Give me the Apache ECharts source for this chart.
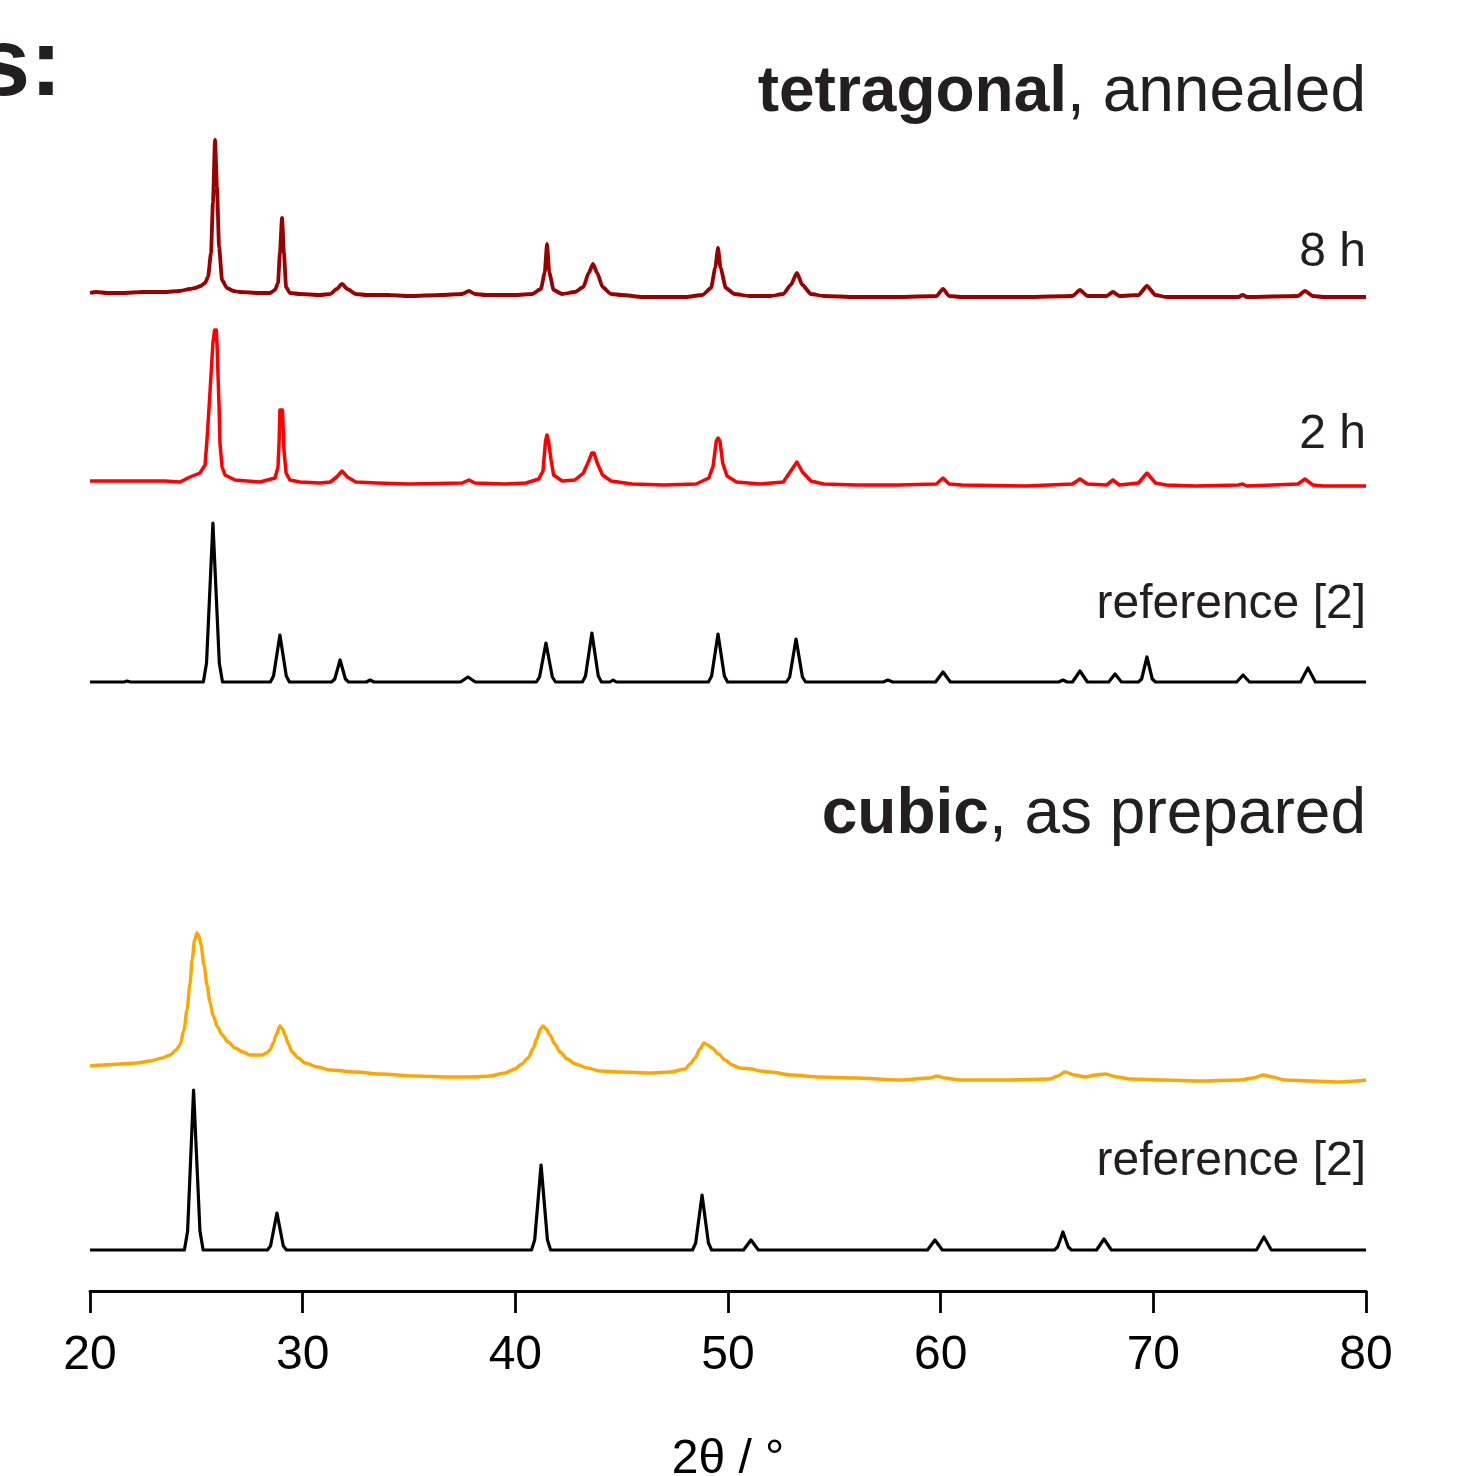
<!DOCTYPE html>
<html><head><meta charset="utf-8">
<script src="https://cdn.jsdelivr.net/npm/echarts@6/dist/echarts.min.js"></script>
<style>html,body{margin:0;padding:0;background:#fff;overflow:hidden;}#c{width:1458px;height:1476px;}</style>
</head><body><div id="c"></div>
<script>
// ---- data: [2θ, intensity] ----
const xTicks = [20, 30, 40, 50, 60, 70, 80];
const seriesNames = ['8 h', '2 h', 'reference [2] (tetragonal)', 'cubic, as prepared', 'reference [2] (cubic)'];
const offsets = [998, 810, 609, 225, 41];

const annealed8h = [[20.00,0],[20.3,1],[20.8,0],[21.5,0],[22.5,1],[23.5,1],[24.2,2],[24.7,4],[24.94,5],[25.20,7],[25.41,10],[25.55,16],[25.69,40],[25.78,90],[25.88,153],[25.97,106],[26.07,46],[26.21,13],[26.44,5],[26.75,2],[27.05,1],[28.0,0],[28.46,0],[28.70,3],[28.84,10],[28.93,40],[29.03,75],[29.12,40],[29.22,6],[29.40,0],[29.87,-1],[30.81,-2],[31.3,-1],[31.6,4],[31.85,9],[32.1,4],[32.5,-1],[33.0,-2],[34.0,-2],[35.0,-3],[36.5,-2],[37.5,-1],[37.82,2],[38.1,-1],[38.6,-2],[40.0,-2],[40.8,-1],[41.2,4],[41.38,20],[41.49,49],[41.6,20],[41.8,3],[42.2,-1],[42.8,1],[43.2,6],[43.45,20],[43.65,29],[43.85,20],[44.1,6],[44.5,-1],[45.0,-2],[46.0,-4],[47.0,-4],[48.0,-4],[48.8,-2],[49.2,5],[49.4,25],[49.53,45],[49.65,25],[49.9,5],[50.3,-1],[51.0,-3],[52.0,-3],[52.6,-1],[52.95,8],[53.24,20],[53.5,8],[53.9,-1],[54.5,-3],[56.0,-4],[58.0,-4],[59.8,-3],[60.11,4],[60.4,-3],[61.0,-4],[64.0,-4],[66.2,-3],[66.55,3],[66.9,-3],[67.8,-3],[68.1,1],[68.4,-3],[69.3,-2],[69.7,7],[70.1,-2],[70.6,-4],[72.0,-4],[74.0,-4],[74.2,-2],[74.4,-4],[76.8,-3],[77.13,2],[77.5,-3],[78.0,-4],[80.0,-4]];

const annealed2h = [[20.0,0],[20.5,0],[21.5,0],[22.5,0],[23.5,0],[24.23,-1],[24.70,4],[25.17,8],[25.41,16],[25.50,41],[25.60,74],[25.78,138],[25.86,151],[25.90,145],[25.94,151],[25.97,138],[26.07,74],[26.11,38],[26.21,14],[26.35,6],[26.82,1],[27.99,-1],[28.70,3],[28.84,14],[28.89,38],[28.93,71],[29.0,69],[29.05,71],[29.12,31],[29.22,8],[29.40,1],[29.87,-1],[30.81,-2],[31.3,-1],[31.6,4],[31.85,10],[32.1,4],[32.5,-1],[33.5,-2],[35.0,-3],[37.5,-2],[37.82,1],[38.1,-2],[39.5,-3],[40.5,-2],[41.1,2],[41.3,10],[41.42,40],[41.49,46],[41.56,40],[41.68,21],[41.8,6],[42.2,0],[42.8,1],[43.2,8],[43.45,20],[43.6,28],[43.7,28],[43.85,18],[44.1,6],[44.5,0],[45.5,-3],[47.0,-4],[48.5,-3],[49.1,3],[49.3,15],[49.45,40],[49.53,43],[49.62,40],[49.75,18],[49.95,5],[50.4,-1],[51.5,-3],[52.6,-1],[52.95,10],[53.24,19],[53.5,9],[53.9,0],[54.5,-3],[56.0,-4],[58.0,-4],[59.8,-3],[60.11,3],[60.4,-3],[61.0,-4],[64.0,-5],[66.2,-3],[66.55,2],[66.9,-3],[67.8,-4],[68.1,1],[68.4,-4],[69.3,-2],[69.7,8],[70.1,-2],[70.6,-4],[72.0,-5],[74.0,-4],[74.2,-3],[74.4,-5],[76.8,-3],[77.13,2],[77.5,-4],[78.0,-5],[80.0,-5]];

const refTetragonal = [[20,0],[21.6,0],[21.74,1],[21.9,0],[25.33,0],[25.48,19],[25.78,159],[26.08,19],[26.23,0],[28.48,0],[28.63,6],[28.93,47],[29.23,6],[29.38,0],[31.36,0],[31.51,3],[31.76,22],[32.01,3],[32.16,0],[33.0,0],[33.17,2],[33.35,0],[37.42,0],[37.77,5],[38.12,0],[40.99,0],[41.14,5],[41.44,39],[41.74,5],[41.89,0],[43.15,0],[43.30,6],[43.60,49],[43.90,6],[44.05,0],[44.45,0],[44.6,2],[44.75,0],[49.08,0],[49.23,6],[49.53,48],[49.83,6],[49.98,0],[52.75,0],[52.90,5],[53.20,43],[53.50,5],[53.65,0],[57.3,0],[57.52,2],[57.74,0],[59.76,0],[60.11,10],[60.46,0],[65.55,0],[65.75,2],[65.95,0],[66.20,0],[66.55,11],[66.90,0],[67.90,0],[68.20,8],[68.50,0],[69.30,0],[69.45,3],[69.70,25],[69.95,3],[70.10,0],[73.92,0],[74.22,7],[74.52,0],[76.92,0],[77.27,14],[77.62,0],[80,0]];

const cubicPrepared = [[20.0,0],[20.6,1],[21.41,2],[22.2,3],[22.82,5],[23.4,8],[23.76,11],[24.05,16],[24.23,21],[24.42,36],[24.56,56],[24.70,82],[24.80,106],[24.92,126],[25.03,133],[25.12,130],[25.22,121],[25.36,101],[25.50,81],[25.64,64],[25.78,51],[26.0,39],[26.21,31],[26.5,24],[26.82,18],[27.2,14],[27.52,11],[28.09,11],[28.3,13],[28.46,16],[28.62,23],[28.75,31],[28.93,40],[29.05,37],[29.17,31],[29.33,22],[29.50,14],[29.8,8],[30.11,3],[30.7,-1],[31.29,-4],[32.5,-6],[33.64,-8],[35.3,-10],[36.93,-11],[38.0,-11],[38.81,-10],[39.5,-7],[39.98,-3],[40.3,2],[40.60,8],[40.85,18],[41.02,28],[41.18,37],[41.30,40],[41.45,37],[41.63,31],[41.85,22],[42.10,14],[42.45,7],[42.81,2],[43.4,-2],[43.98,-5],[45.0,-6],[46.33,-7],[47.3,-6],[47.98,-3],[48.22,2],[48.45,8],[48.68,17],[48.87,23],[49.05,21],[49.25,18],[49.55,12],[49.86,6],[50.2,1],[50.56,-2],[51.13,-3],[51.5,-5],[51.97,-6],[53.0,-9],[54.33,-11],[56.0,-12],[58.09,-14],[59.5,-12],[59.83,-10],[60.2,-12],[60.91,-14],[63.0,-14],[65.14,-13],[65.5,-10],[65.85,-6],[66.3,-9],[66.79,-11],[67.3,-9],[67.73,-8],[68.3,-11],[68.90,-13],[70.5,-14],[72.19,-15],[74.07,-14],[74.7,-12],[75.16,-9],[75.6,-11],[76.19,-14],[77.5,-15],[78.78,-16],[79.5,-15],[80.0,-14]];

const refCubic = [[20,0],[24.44,0],[24.59,19],[24.87,160],[25.17,19],[25.32,0],[28.34,0],[28.49,4],[28.79,37],[29.09,4],[29.24,0],[40.76,0],[40.91,10],[41.21,85],[41.51,10],[41.66,0],[48.33,0],[48.48,7],[48.78,55],[49.08,7],[49.23,0],[50.73,0],[51.08,10],[51.43,0],[59.38,0],[59.73,10],[60.08,0],[65.35,0],[65.50,3],[65.75,18],[66.00,3],[66.15,0],[67.33,0],[67.68,11],[68.03,0],[74.85,0],[75.20,13],[75.55,0],[80,0]];

const allData = [annealed8h, annealed2h, refTetragonal, cubicPrepared, refCubic];
const colors = ['#9b0000', '#ff0000', '#000000', '#ffa500', '#000000'];
const widths = [3.8, 3.5, 3.2, 3.4, 3.2];
const smooths = [0.2, false, false, 0.3, false];

const FONT = '"Liberation Sans", Arial, Helvetica, sans-serif';
const TXT = '#231f20';

const el = document.getElementById('c');
const chart = echarts.init(el, null, {renderer: 'canvas', width: 1458, height: 1476});
const series = allData.map((arr, i) => ({
  type: 'line',
  name: seriesNames[i],
  data: arr.map(p => [p[0], p[1] + offsets[i]]),
  showSymbol: false,
  symbol: 'none',
  smooth: smooths[i],
  smoothMonotone: 'x',
  lineStyle: {color: colors[i], width: widths[i], join: 'round'},
  animation: false,
  silent: true
}));

function label(text, y, size, rich) {
  return {
    type: 'text', x: 1366, y: y, silent: true,
    style: {
      text: text, fill: TXT, fontSize: size, fontFamily: FONT,
      align: 'right', verticalAlign: 'middle',
      rich: rich || {}
    }
  };
}
const boldRich = {b: {fontWeight: 'bold', fontSize: 64, fontFamily: FONT, fill: TXT}};

chart.setOption({
  animation: false,
  backgroundColor: '#ffffff',
  grid: {left: 90, width: 1276, top: 91, height: 1200, containLabel: false, outerBoundsMode: 'none'},
  xAxis: {
    type: 'value', min: xTicks[0], max: xTicks[xTicks.length - 1], interval: 10,
    name: '2θ / °', nameLocation: 'middle', nameGap: 145,
    nameTextStyle: {fontSize: 48, fontFamily: FONT, color: '#000'},
    axisLine: {show: true, onZero: false, lineStyle: {color: '#000', width: 2.8}},
    axisTick: {show: true, length: 22, lineStyle: {color: '#000', width: 2.8}},
    axisLabel: {fontSize: 48, fontFamily: FONT, color: '#000', margin: 41},
    splitLine: {show: false}
  },
  yAxis: {type: 'value', min: 0, max: 1200, show: false, splitLine: {show: false}},
  series: series,
  graphic: [
    label('{b|tetragonal}, annealed', 93, 64, boldRich),
    label('{b|cubic}, as prepared', 815, 64, boldRich),
    label('8 h', 253, 48),
    label('2 h', 435, 48),
    label('reference [2]', 605, 48),
    label('reference [2]', 1162, 48),
    {type: 'text', x: 62, y: 69, silent: true,
     style: {text: 's:', fill: TXT, fontSize: 96, fontWeight: 'bold', fontFamily: FONT, align: 'right', verticalAlign: 'middle'}}
  ]
});
</script></body></html>
